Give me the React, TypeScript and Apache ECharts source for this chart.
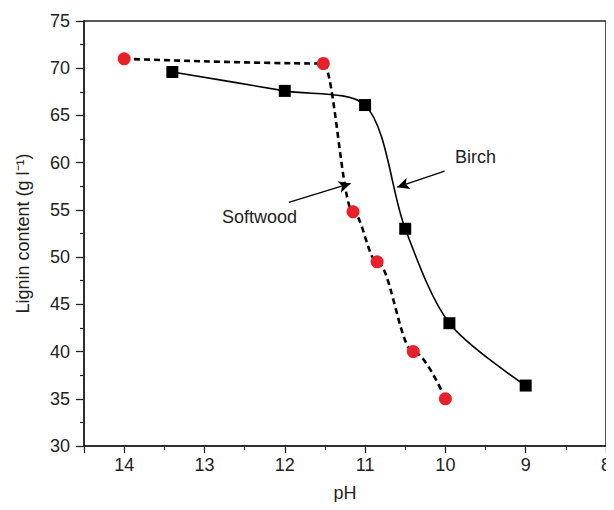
import React, { useEffect, useRef } from "react";
import * as echarts from "echarts";

const birchPH = [13.4, 12, 11, 10.5, 9.95, 9];
const birchLignin = [69.6, 67.6, 66.1, 53, 43, 36.4];
const softwoodPH = [14, 11.52, 11.15, 10.85, 10.4, 10];
const softwoodLignin = [71, 70.5, 54.8, 49.5, 40, 35];

const birchArrow = [[10.01, 59.1], [10.6, 57.4]];
const softwoodArrow = [[11.95, 55.8], [11.18, 57.8]];

export default function App() {
  const ref = useRef<HTMLDivElement>(null);
  useEffect(() => {
    if (!ref.current) return;
    const chart = echarts.init(ref.current, null, { renderer: "svg" });
    const font = "Liberation Sans, Arial, sans-serif";
    const zip = (a: number[], b: number[]) => a.map((v, i) => [v, b[i]]);
    chart.setOption({
      animation: false,
      grid: { left: 84, top: 21, right: 5, bottom: 64, show: true, borderColor: "#222", borderWidth: 1.5, backgroundColor: "transparent" },
      xAxis: {
        type: "value",
        min: 8,
        max: 14.5,
        interval: 1,
        inverse: true,
        name: "pH",
        nameLocation: "middle",
        nameGap: 38,
        nameTextStyle: { fontFamily: font, fontSize: 18, color: "#222" },
        axisLine: { show: true, lineStyle: { color: "#222", width: 1.5 } },
        axisTick: { show: true, length: 7, lineStyle: { color: "#222", width: 1.3 } },
        minorTick: { show: true, splitNumber: 2, length: 4, lineStyle: { color: "#222", width: 1.2 } },
        axisLabel: { fontFamily: font, fontSize: 18, color: "#222", margin: 10, showMinLabel: true, showMaxLabel: false },
        splitLine: { show: false },
      },
      yAxis: {
        type: "value",
        min: 30,
        max: 75,
        interval: 5,
        name: "Lignin content (g l\u207B\u00B9)",
        nameLocation: "middle",
        nameGap: 52,
        nameTextStyle: { fontFamily: font, fontSize: 18, color: "#222" },
        axisLine: { show: true, lineStyle: { color: "#222", width: 1.5 } },
        axisTick: { show: true, length: 8, lineStyle: { color: "#222", width: 1.3 } },
        minorTick: { show: true, splitNumber: 2, length: 4, lineStyle: { color: "#222", width: 1.2 } },
        axisLabel: { fontFamily: font, fontSize: 18, color: "#222", margin: 14 },
        splitLine: { show: false },
      },
      series: [
        {
          name: "Birch",
          type: "line",
          data: zip(birchPH, birchLignin),
          smooth: 0.3,
          symbol: "rect",
          symbolSize: 12,
          itemStyle: { color: "#000" },
          lineStyle: { color: "#000", width: 1.6 },
          z: 3,
          markLine: {
            silent: true,
            symbol: ["none", "arrow"],
            symbolSize: [9, 12],
            label: { show: false },
            lineStyle: { color: "#000", width: 1.3, type: "solid" },
            data: [
              [{ coord: birchArrow[0] }, { coord: birchArrow[1] }],
              [{ coord: softwoodArrow[0] }, { coord: softwoodArrow[1] }],
            ],
          },
        },
        {
          name: "Softwood",
          type: "line",
          data: zip(softwoodPH, softwoodLignin),
          smooth: 0.35,
          smoothMonotone: "x",
          symbol: "circle",
          symbolSize: 13,
          itemStyle: { color: "#e8202a" },
          lineStyle: { color: "#000", width: 2.6, type: [6, 4] },
          z: 2,
        },
      ],
      graphic: [
        { type: "text", left: 455, top: 148, style: { text: "Birch", font: "18px " + font, fill: "#222" } },
        { type: "text", left: 222, top: 208, style: { text: "Softwood", font: "18px " + font, fill: "#222" } },
      ],
    });
    return () => chart.dispose();
  }, []);
  return <div ref={ref} style={{ width: 614, height: 510, margin: -8 }} />;
}
